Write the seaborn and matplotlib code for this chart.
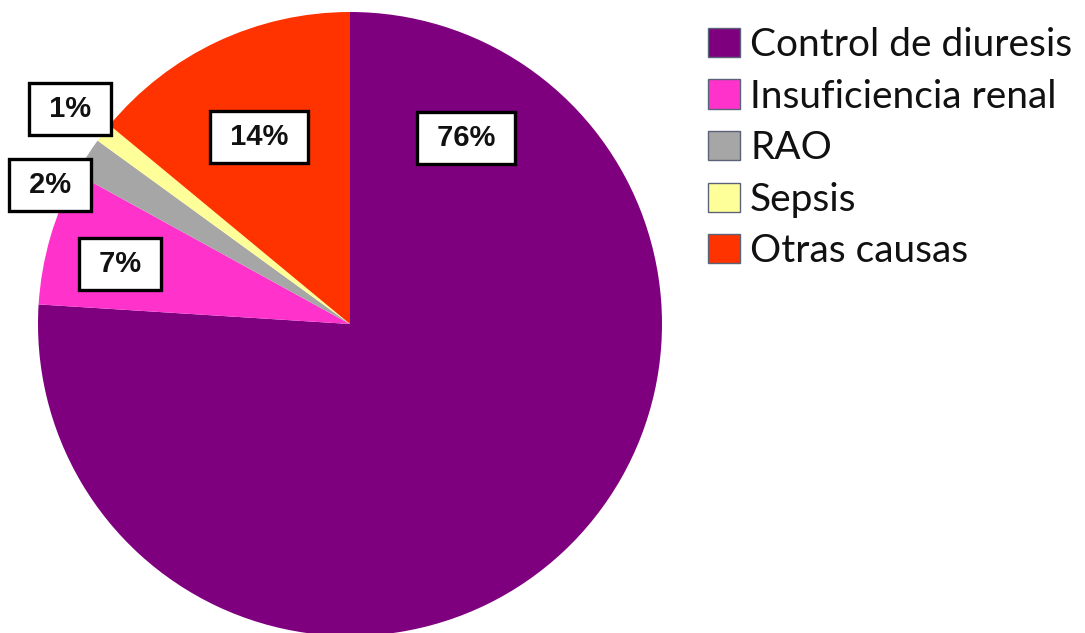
import matplotlib
matplotlib.use("Agg")
import matplotlib.pyplot as plt
import seaborn as sns
from matplotlib.patches import Patch

categories = ["Control de diuresis", "Insuficiencia renal", "RAO", "Sepsis", "Otras causas"]
values = [76, 7, 2, 1, 14]
labels = ["76%", "7%", "2%", "1%", "14%"]
colors = ["#7F007F", "#FF33CC", "#A6A6A6", "#FFFF99", "#FF3300"]
# label box centres, in axes fraction
label_pos = [(466/1085, 1-138/633), (120/1085, 1-264/633), (50/1085, 1-185/633),
             (70/1085, 1-109/633), (259/1085, 1-137/633)]

sns.set_theme(style="white")
plt.rcParams['font.family'] = ['Liberation Sans', 'DejaVu Sans']

fig = plt.figure(figsize=(10.85, 6.33), dpi=100)
ax = fig.add_axes([0, 0, 1, 1])
pal = sns.color_palette(colors)

wedges, _ = ax.pie(values, colors=pal, startangle=90, counterclock=False,
                   radius=312, center=(350, 633-324),
                   wedgeprops=dict(linewidth=0))
ax.set_xlim(0, 1085)
ax.set_ylim(0, 633)
ax.set_aspect('equal', adjustable='box')
ax.axis('off')

for lab, (x, y) in zip(labels, label_pos):
    ax.text(x, y, " " + lab + " ", transform=ax.transAxes, ha='center', va='center',
            fontsize=21, fontweight='bold', color='#111111',
            bbox=dict(boxstyle='square,pad=0.4', facecolor='white',
                      edgecolor='black', linewidth=2.4))

handles = [Patch(facecolor=c, edgecolor='#5A6378', linewidth=1.0) for c in pal]
leg = fig.legend(handles, categories, loc='upper left',
                 bbox_to_anchor=(708/1085, 1-27/633), frameon=False,
                 prop=dict(family=['Lato', 'DejaVu Sans'], size=28),
                 handlelength=0.82, handleheight=0.78, handletextpad=0.26,
                 labelspacing=0.4, borderpad=0, borderaxespad=0)
for t in leg.get_texts():
    t.set_color('#111111')

fig.savefig("out.png", dpi=100)
